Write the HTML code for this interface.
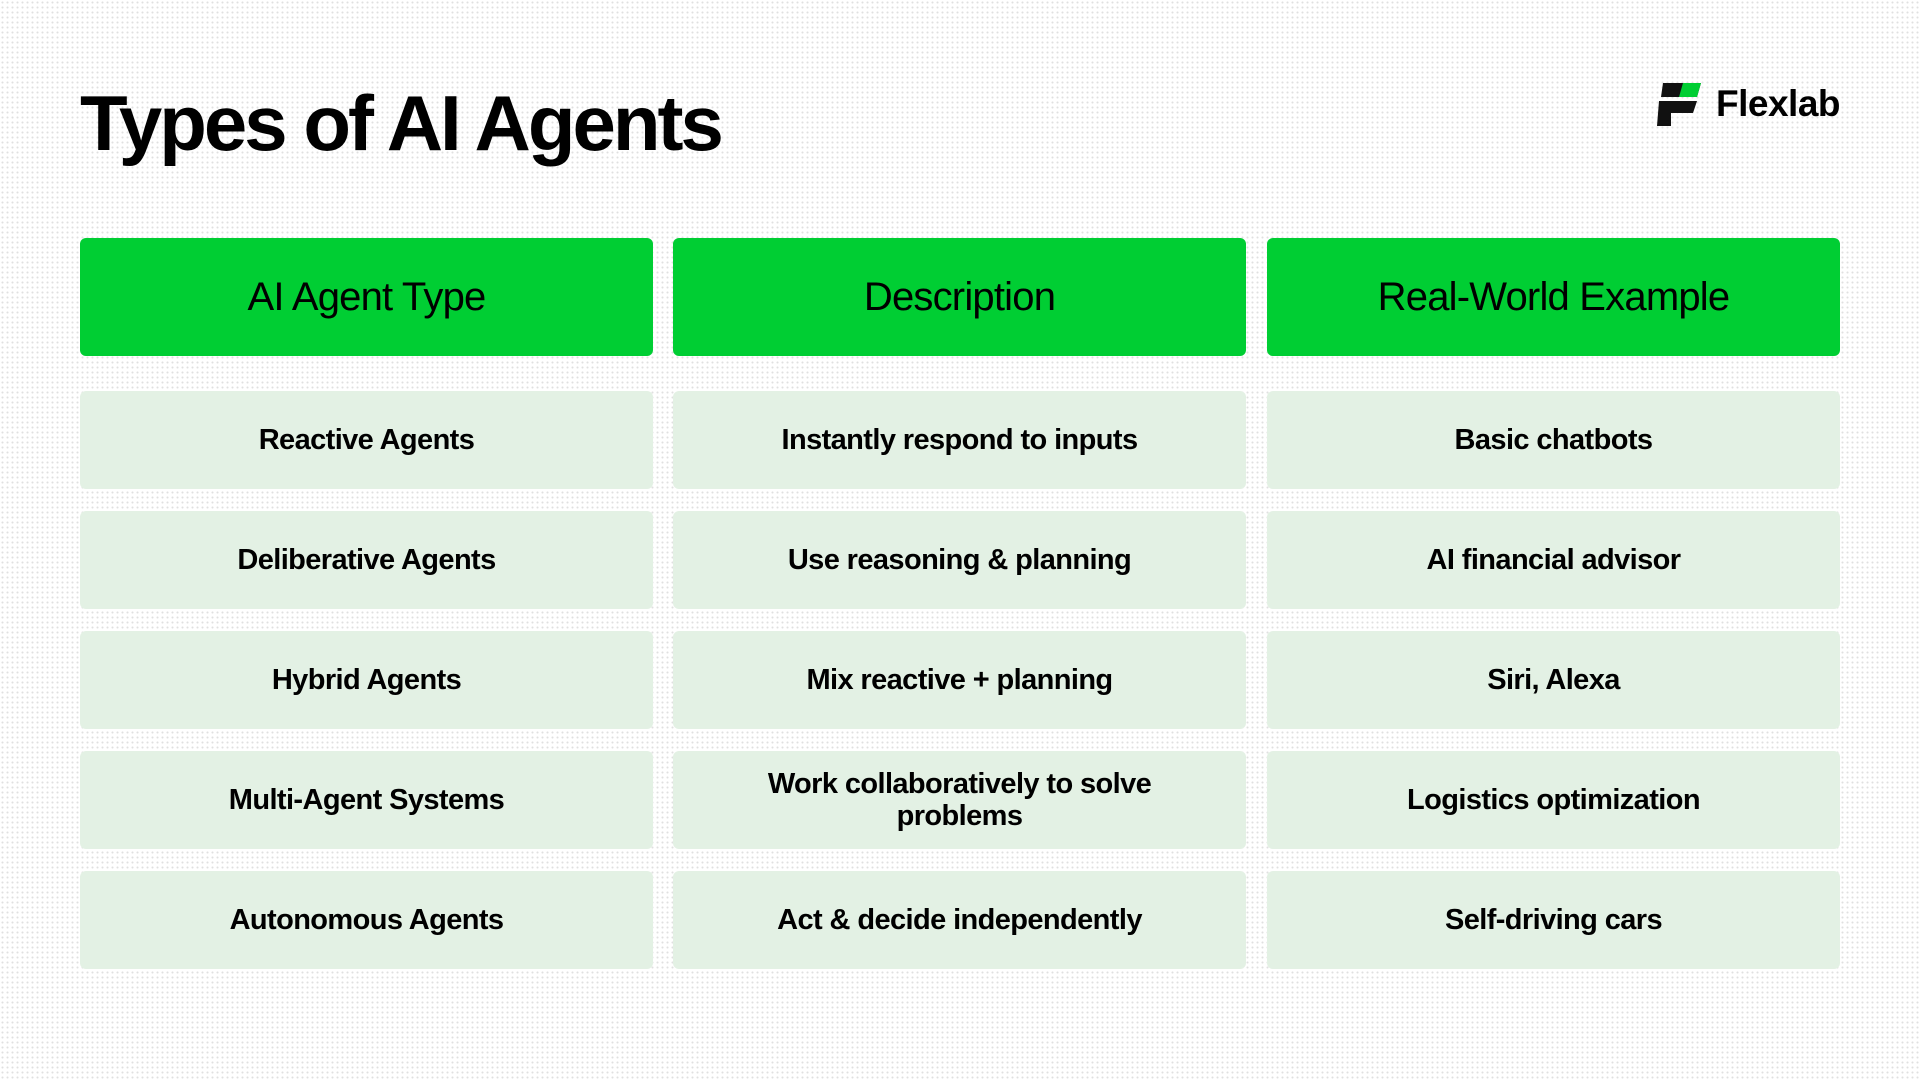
<!DOCTYPE html>
<html><head><meta charset="utf-8"><style>
*{margin:0;padding:0;box-sizing:border-box}
body{width:1920px;height:1080px;overflow:hidden;position:relative;font-family:"Liberation Sans",sans-serif;color:#000;
background:#fff;background-image:radial-gradient(circle,rgba(0,0,0,0.12) 0.8px,transparent 1.2px);background-size:5px 5px}
.title{position:absolute;left:80px;top:78px;font-size:78px;font-weight:700;letter-spacing:-3px}
.logo{position:absolute;left:1657px;top:83px}
.ltext{position:absolute;left:1716px;top:83px;font-size:37px;font-weight:700;letter-spacing:-0.5px}
.cell{position:absolute;width:573px;border-radius:6px;display:flex;align-items:center;justify-content:center;text-align:center}
.h{background:#00ce33;height:118px;top:238px;font-size:40px;letter-spacing:-0.8px}
.c{background:#e3f1e4;height:98px;font-size:29px;line-height:32px;padding:0 60px;font-weight:700;letter-spacing:-0.6px}
</style></head><body>
<div class="title">Types of AI Agents</div>
<svg class="logo" width="44" height="43" viewBox="0 0 44 43">
<polygon points="6,0 44,0 40,14 4,14" fill="#111"/>
<polygon points="26,0 44,0 40,14 22,14" fill="#00ce33"/>
<polygon points="2,18 40,18 36,30 14,30 14,43 0,43" fill="#111"/>
</svg>
<div class="ltext">Flexlab</div>
<div class="cell h" style="left:80px">AI Agent Type</div>
<div class="cell h" style="left:673px">Description</div>
<div class="cell h" style="left:1267px">Real-World Example</div>

<div class="cell c" style="left:80px;top:391px">Reactive Agents</div>
<div class="cell c" style="left:673px;top:391px">Instantly respond to inputs</div>
<div class="cell c" style="left:1267px;top:391px">Basic chatbots</div>

<div class="cell c" style="left:80px;top:511px">Deliberative Agents</div>
<div class="cell c" style="left:673px;top:511px">Use reasoning &amp; planning</div>
<div class="cell c" style="left:1267px;top:511px">AI financial advisor</div>

<div class="cell c" style="left:80px;top:631px">Hybrid Agents</div>
<div class="cell c" style="left:673px;top:631px">Mix reactive + planning</div>
<div class="cell c" style="left:1267px;top:631px">Siri, Alexa</div>

<div class="cell c" style="left:80px;top:751px">Multi-Agent Systems</div>
<div class="cell c" style="left:673px;top:751px">Work collaboratively to solve problems</div>
<div class="cell c" style="left:1267px;top:751px">Logistics optimization</div>

<div class="cell c" style="left:80px;top:871px">Autonomous Agents</div>
<div class="cell c" style="left:673px;top:871px">Act &amp; decide independently</div>
<div class="cell c" style="left:1267px;top:871px">Self-driving cars</div>
</body></html>
